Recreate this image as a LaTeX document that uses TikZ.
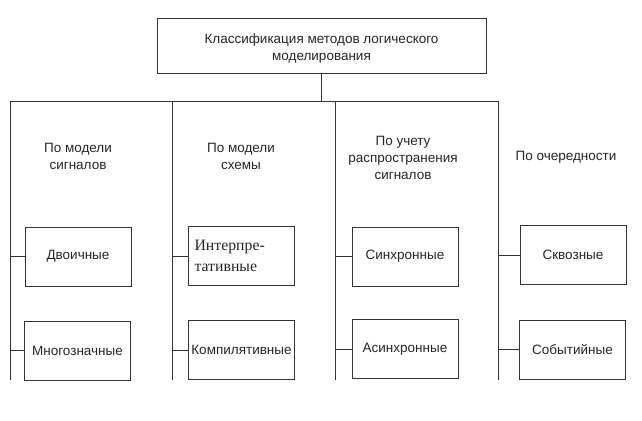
\documentclass[tikz,border=0pt]{standalone}
\usepackage{fontspec}
\setmainfont{Liberation Sans}
\newfontfamily\serifcyr{Liberation Serif}
\begin{document}
\begin{tikzpicture}[x=1pt, y=-1pt, line cap=rect, line join=miter, font=\fontsize{13.5}{17}\selectfont, line width=0.9pt, draw=black!80, text=black!85]
	\tikzset{catbox/.style={draw=black!80, minimum width=106pt, minimum height=59pt, inner sep=2pt},
		cattext/.style={align=center, inner sep=0pt}}
	\useasboundingbox (0,0) rectangle (642,420);
	% root
	\node[draw=black!80, minimum width=329pt, minimum height=55pt, align=center, inner sep=0pt] (root) at (321.5,46) {\rule{0pt}{14pt}Классификация методов логического\\моделирования};
	\coordinate (bus1) at (10,101);
	\coordinate (bus4) at (498,101);
	\draw (root.south) -- (root.south |- bus1);
	\draw (bus1) -- (bus4);
	% columns
	\coordinate (c1) at (10,101);
	\coordinate (c2) at (172,101);
	\coordinate (c3) at (335,101);
	\coordinate (c4) at (498,101);
	\coordinate (c1end) at (10,380);
	\coordinate (c2end) at (172,380);
	\coordinate (c3end) at (335,380);
	\coordinate (c4end) at (498,380);
	\draw (c1)--(c1end) (c2)--(c2end) (c3)--(c3end) (c4)--(c4end);
	% headings
	\node[cattext] (h1) at (78,156) {По модели\\сигналов};
	\node[cattext] (h2) at (241,156) {По модели\\схемы};
	\node[cattext] (h3) at (403,158) {По учету\\распространения\\сигналов};
	\node[cattext] (h4) at (566,157) {По очередности};
	% first row
	\node[catbox] (b11) at (78,256.5) {Двоичные};
	\node[catbox, text width=94pt, align=left, inner sep=6pt, font=\serifcyr\fontsize{15.8}{21}\selectfont] (b21) at (241.5,256) {Интерпре-\\тативные};
	\node[catbox] (b31) at (405,256.5) {Синхронные};
	\node[catbox] (b41) at (573,255) {Сквозные};
	% second row
	\node[catbox] (b12) at (77.5,350.5) {Многозначные};
	\node[catbox] (b22) at (241.5,350) {Компилятивные};
	\node[catbox] (b32) at (405,349) {Асинхронные};
	\node[catbox] (b42) at (572.5,349.5) {Событийные};
	% ticks
	\draw (b11.west) -- (b11.west -| c1) (b12.west) -- (b12.west -| c1);
	\draw (b21.west) -- (b21.west -| c2) (b22.west) -- (b22.west -| c2);
	\draw (b31.west) -- (b31.west -| c3) (b32.west) -- (b32.west -| c3);
	\draw (b41.west) -- (b41.west -| c4) (b42.west) -- (b42.west -| c4);
\end{tikzpicture}
\end{document}
